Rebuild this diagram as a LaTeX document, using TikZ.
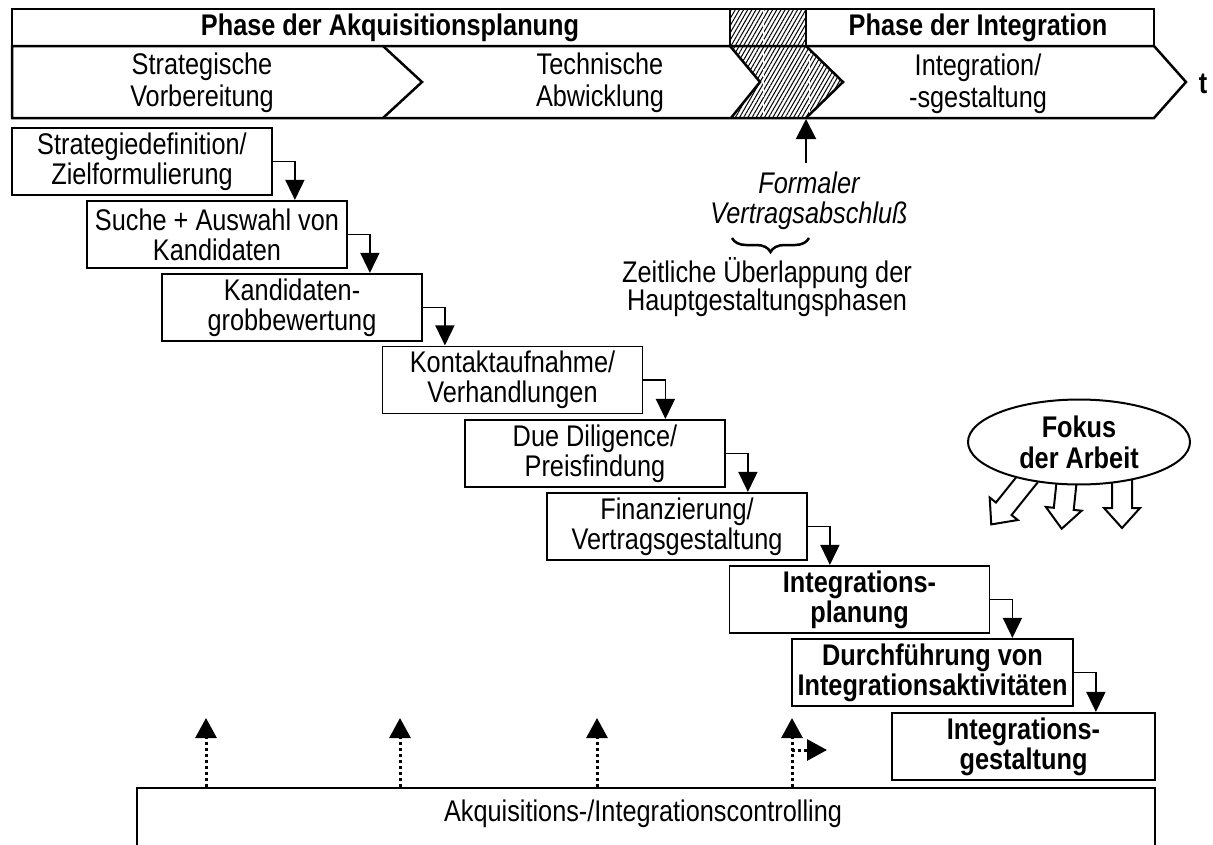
\documentclass[tikz,border=0pt]{standalone}
\usepackage{fontspec}
\setmainfont{Liberation Sans}
\usetikzlibrary{arrows.meta,shapes.geometric,patterns.meta,decorations.pathreplacing}
% text size; all lettering is set slightly taller than wide (yscale below)
\newcommand\textsz{\fontsize{25.3}{25.4}\selectfont}
% hollow block arrow: start x, start y, rotation, length
\newcommand\fokuspfeil[4]{%
  \draw[hollow, shift={(#1,#2)}, rotate=#3]
    (-10,0) -- (-10,#4-20) -- (-18,#4-20) -- (0,#4) -- (18,#4-20) -- (10,#4-20) -- (10,0);}
\begin{document}
\begin{tikzpicture}[x=1pt,y=-1pt,
  band/.style={line width=2.5pt, line join=miter},
  hatch/.style={pattern={Lines[angle=60,distance=3.6pt,line width=1pt]}},
  tall/.style={yscale=1.18},
  lbl/.style={tall, font=\textsz, align=center, inner sep=0pt},
  head/.style={tall, font=\textsz\bfseries, inner sep=0pt},
  stepbox/.style={tall, draw, line width=1.8pt, minimum width=260pt, minimum height=56.8pt,
                  align=center, inner sep=0pt, font=\textsz},
  strongbox/.style={stepbox, font=\textsz\bfseries},
  flow/.style={line width=1.5pt, -{Triangle[length=20pt,width=19pt]}},
  ctrlflow/.style={line width=3pt, dash pattern=on 3pt off 3pt,
                   -{Triangle[length=20pt,width=21pt]}},
  upflow/.style={line width=2pt, -{Triangle[length=20pt,width=20pt]}},
  hollow/.style={draw, line width=2pt, fill=white, line join=miter}]

\useasboundingbox (0,0) rectangle (1213,844);

% ---- time band: hatched overlap zone ----
\fill[hatch] (730,9) rectangle (806,46);
\fill[hatch] (730,46) -- (806,46) -- (843,82) -- (806,118) -- (731,118) -- (760,82) -- cycle;
\begin{scope}
  \clip (730,9) -- (806,9) -- (806,46) -- (843,82) -- (806,118) -- (731,118)
        -- (760,82) -- (730,46) -- cycle;
  \draw[white, line width=1pt, dash pattern=on 8pt off 2pt] (763,9) -- (763,118) (809,46) -- (809,118);
\end{scope}

% ---- time band: outlines ----
\draw[band] (12,9) rectangle (1154,46);
\draw[band] (12,46) -- (1154,46) -- (1186,82) -- (1154,118) -- (12,118) -- cycle;
\draw[band] (730,9) -- (730,46) (806,9) -- (806,46);
\draw[band] (383,46) -- (422,82) -- (383,118);
\draw[band] (730,46) -- (760,82) -- (731,118);
\draw[band] (806,46) -- (843,82) -- (806,118);

% ---- time band: labels ----
\node[head] (hAkq) at (390,28) {Phase der Akquisitionsplanung};
\node[head] (hInt) at (978,28) {Phase der Integration};
\node[lbl, font=\fontsize{25.3}{27}\selectfont] (pStrat) at (202,82.5) {Strategische\\Vorbereitung};
\node[lbl, font=\fontsize{25.3}{27}\selectfont] (pTech) at (600,82.5) {Technische\\Abwicklung};
\node[lbl, font=\fontsize{25.3}{27}\selectfont] (pInt) at (978,84) {Integration/\\-sgestaltung};
\node[head] (tAxis) at (1203,84) {t};

% ---- signing date ----
\coordinate (vertrag) at (806,119);
\node[lbl, font=\textsz\itshape] (fv) at (809,200.5) {Formaler\\Vertragsabschluß};
\draw[upflow, shorten <=8pt] (vertrag |- fv.north) -- (vertrag);
\draw[line width=2.5pt, decorate, decoration={brace, amplitude=14pt}] (809,238) -- (732,238);
\node[lbl, font=\fontsize{25.3}{23.7}\selectfont] (ueberlapp) at (767,287.5) {Zeitliche Überlappung der\\Hauptgestaltungsphasen};

% ---- process steps ----
\node[stepbox] (s1) at (142,161.5) {Strategiedefinition/\\Zielformulierung};
\node[stepbox] (s2) at (217,234.5) {Suche + Auswahl von\\Kandidaten};
\node[stepbox] (s3) at (292,307.5) {Kandidaten-\\grobbewertung};
\node[stepbox] (s4) at (512.5,380) {Kontaktaufnahme/\\Verhandlungen};
\node[stepbox] (s5) at (595,453.5) {Due Diligence/\\Preisfindung};
\node[stepbox] (s6) at (677,526.5) {Finanzierung/\\Vertragsgestaltung};
\node[strongbox] (s7) at (859.5,599.5) {Integrations-\\planung};
\node[strongbox, minimum width=281pt] (s8) at (932.5,672.5) {Durchführung von\\Integrationsaktivitäten};
\node[strongbox, minimum width=263pt] (s9) at (1023.5,746.5) {Integrations-\\gestaltung};

\foreach \a/\b in {s1/s2,s2/s3,s3/s4,s4/s5,s5/s6,s6/s7,s7/s8,s8/s9} {
  \path (\a.east) ++(22,0) coordinate (knick);
  \draw[flow] (\a.east) -- (knick) -- (knick |- \b.north);
}

% ---- focus of the work ----
\fokuspfeil{1030}{476}{-38.7}{62}
\fokuspfeil{1067}{478}{-6}{51}
\fokuspfeil{1122}{478}{0}{50}
\node[tall, ellipse, draw, fill=white, line width=2pt, minimum width=222pt, minimum height=72pt,
      inner sep=0pt, align=center, font=\fontsize{25.3}{26.3}\selectfont\bfseries]
      (fokus) at (1079,442) {Fokus\\der Arbeit};

% ---- controlling ----
\node[draw, line width=1.8pt, minimum width=1018pt, minimum height=80pt, inner sep=0pt]
      (ctrl) at (646,828) {};
\node[lbl] (ctrltext) at (643,814) {Akquisitions-/Integrationscontrolling};
\foreach \x/\n in {206/c1,400/c2,597/c3,792/c4} {
  \coordinate (\n) at (\x,718);
  \draw[ctrlflow] (\n |- ctrl.north) -- (\n);
}
\coordinate (c4r) at (827,750);
\draw[ctrlflow] (c4 |- c4r) -- (c4r);

\end{tikzpicture}
\end{document}
